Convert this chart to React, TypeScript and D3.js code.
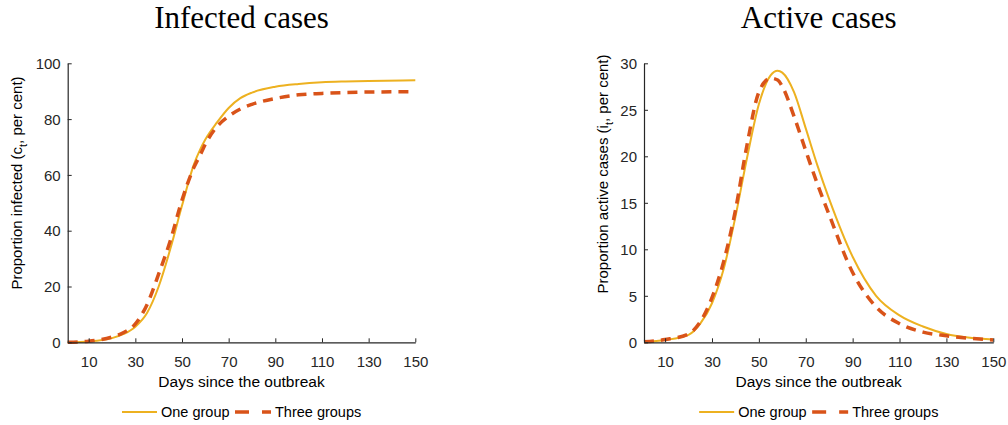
import * as d3 from 'd3';
import * as React from 'react';

const days = [1, 10, 20, 25, 30, 35, 40, 45, 50, 55, 58, 60, 65, 70, 75, 80, 90, 100, 110, 120, 130, 150];

const infectedOne = [0, 0.3, 1.5, 3, 5.6, 10.5, 20, 33.5, 49, 63.5, 69.5, 72.7, 78.8, 84, 87.5, 89.5, 91.6, 92.6, 93.2, 93.5, 93.7, 93.9];
const infectedThree = [0, 0.4, 1.9, 3.5, 6.6, 13.5, 24.5, 36.5, 51, 62.5, 67.5, 71, 77.3, 81, 83.6, 85.3, 87.4, 88.7, 89.2, 89.5, 89.7, 89.8];

const activeOne = [0.05, 0.25, 0.8, 2.0, 4.2, 7.9, 13.5, 19.9, 25.6, 28.7, 29.2, 29.0, 26.9, 23.0, 19.0, 15.4, 9.2, 5.0, 2.9, 1.7, 0.9, 0.3];
const activeThree = [0.05, 0.3, 0.9, 2.2, 4.8, 8.7, 14.2, 21.3, 26.9, 28.4, 28.2, 27.5, 24.3, 20.6, 17.0, 13.7, 7.5, 3.8, 2.0, 1.1, 0.7, 0.25];

const xTicks = [10, 30, 50, 70, 90, 110, 130, 150];
const infectedTicks = [0, 20, 40, 60, 80, 100];
const activeTicks = [0, 5, 10, 15, 20, 25, 30];

const seriesNames = ['One group', 'Three groups'];

const ONE_COLOR = '#EDB120';
const THREE_COLOR = '#D95319';
const AXIS_COLOR = '#262626';
const SANS = 'Liberation Sans, Arial, sans-serif';

const App = () => {
  const ref = React.useRef<SVGSVGElement | null>(null);

  React.useEffect(() => {
    if (!ref.current) {
      return;
    }
    const svg = d3.select(ref.current);
    svg.selectAll('*').remove();

    const panels = [
      {
        title: 'Infected cases',
        left: 67.7,
        right: 415.3,
        yMax: 100,
        yTicks: infectedTicks,
        one: infectedOne,
        three: infectedThree,
        labelPre: 'Proportion infected (c',
        labelX: 16,
        labelY: 183,
      },
      {
        title: 'Active cases',
        left: 644,
        right: 993.3,
        yMax: 30,
        yTicks: activeTicks,
        one: activeOne,
        three: activeThree,
        labelPre: 'Proportion active cases (i',
        labelX: 602,
        labelY: 174,
      },
    ];

    const top = 63.3;
    const bottom = 342.3;

    panels.forEach((p) => {
      const x = d3.scaleLinear().domain([1, 150]).range([p.left, p.right]);
      const y = d3.scaleLinear().domain([0, p.yMax]).range([bottom, top]);
      const g = svg.append('g');
      const cx = (p.left + p.right) / 2;

      // title
      g.append('text')
        .attr('x', cx)
        .attr('y', 28)
        .attr('text-anchor', 'middle')
        .style('font-family', 'Liberation Serif, serif')
        .style('font-size', '31px')
        .style('fill', '#000')
        .text(p.title);

      // lines
      const line = d3
        .line<number>()
        .x((d, i) => x(days[i]))
        .y((d) => y(d))
        .curve(d3.curveMonotoneX);

      g.append('path')
        .datum(p.one)
        .attr('fill', 'none')
        .attr('stroke', ONE_COLOR)
        .attr('stroke-width', 2)
        .attr('d', line);

      g.append('path')
        .datum(p.three)
        .attr('fill', 'none')
        .attr('stroke', THREE_COLOR)
        .attr('stroke-width', 3.5)
        .attr('stroke-dasharray', '10,7')
        .attr('d', line);

      // axes, ticks pointing inward
      const xAxis = g
        .append('g')
        .attr('transform', `translate(0,${bottom})`)
        .call(d3.axisTop(x).tickValues(xTicks).tickSizeInner(4).tickSizeOuter(0).tickFormat(d3.format('d')));
      xAxis.selectAll('.tick text').attr('y', 14).attr('dy', '0.71em');

      const yAxis = g
        .append('g')
        .attr('transform', `translate(${p.left},0)`)
        .call(d3.axisRight(y).tickValues(p.yTicks).tickSizeInner(4).tickSizeOuter(0).tickFormat(d3.format('d')));
      yAxis.selectAll('.tick text').attr('x', -7).attr('text-anchor', 'end').attr('dy', '0.35em');

      g.selectAll('.domain').attr('stroke', AXIS_COLOR).attr('stroke-width', 1.2);
      g.selectAll('.tick line').attr('stroke', AXIS_COLOR);
      g.selectAll('.tick text')
        .attr('fill', AXIS_COLOR)
        .style('font-family', SANS)
        .style('font-size', '15px');

      // x label
      g.append('text')
        .attr('x', cx)
        .attr('y', 387)
        .attr('text-anchor', 'middle')
        .style('font-family', SANS)
        .style('font-size', '15.5px')
        .style('fill', '#000')
        .text('Days since the outbreak');

      // y label with subscript t
      const yl = g
        .append('text')
        .attr('transform', `translate(${p.labelX + 6},${p.labelY}) rotate(-90)`)
        .attr('text-anchor', 'middle')
        .style('font-family', SANS)
        .style('font-size', '15px')
        .style('fill', '#000');
      yl.append('tspan').text(p.labelPre);
      yl.append('tspan').attr('dy', 5).style('font-size', '11px').text('t');
      yl.append('tspan').attr('dy', -5).text(', per cent)');

      // legend
      const lx = cx - 119.5;
      const ly = 412;
      const leg = g.append('g');
      leg.append('line')
        .attr('x1', lx)
        .attr('x2', lx + 35)
        .attr('y1', ly)
        .attr('y2', ly)
        .attr('stroke', ONE_COLOR)
        .attr('stroke-width', 2);
      leg.append('text')
        .attr('x', lx + 39)
        .attr('y', ly + 5)
        .style('font-family', SANS)
        .style('font-size', '14.5px')
        .style('fill', '#000')
        .text(seriesNames[0]);
      leg.append('line')
        .attr('x1', lx + 113)
        .attr('x2', lx + 149)
        .attr('y1', ly)
        .attr('y2', ly)
        .attr('stroke', THREE_COLOR)
        .attr('stroke-width', 3.5)
        .attr('stroke-dasharray', '14,13');
      leg.append('text')
        .attr('x', lx + 153)
        .attr('y', ly + 5)
        .style('font-family', SANS)
        .style('font-size', '14.5px')
        .style('fill', '#000')
        .text(seriesNames[1]);
    });
  }, []);

  return (
    <svg
      ref={ref}
      width={1008}
      height={425}
      style={{ position: 'absolute', left: 0, top: 0, background: '#fff' }}
    />
  );
};

export default App;
